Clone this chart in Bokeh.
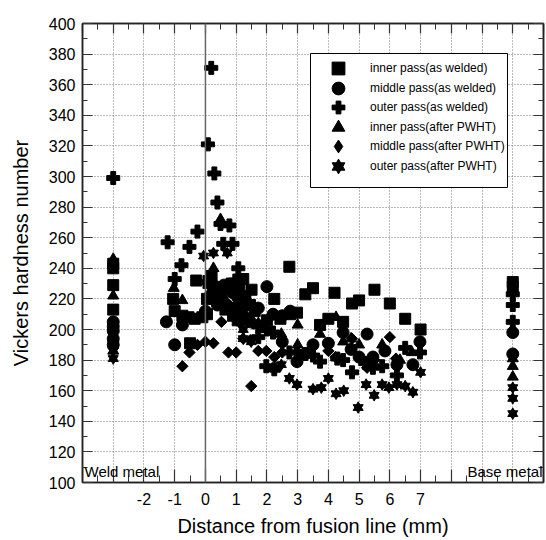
import math
from bokeh.plotting import figure
from bokeh.models import (Range1d, LinearAxis, SingleIntervalTicker, Span, Label, BoxAnnotation,
                          Legend, LegendItem, ColumnDataSource, CustomJSTickFormatter)
from bokeh.embed import file_html
from bokeh.resources import INLINE

FONT = "Liberation Sans"

# ---------------- data (x: distance from fusion line, mm; -3 = weld metal, 10 = base metal)
inner_aw_x = [-3, -3, -3, -3, -1.05, -1.0, -0.75, -0.55, -0.35, -0.1, 0.05, -0.3, 0.2, -0.5,
              0.05, 0.25, 0.5, 0.85, 1.1, 1.3, 0.65, 0.9, 1.05, 1.45, 1.6, 1.23, 1.5, 2.24, 0.75,
              2.0, 2.44, 2.76, 2.98, 2.73, 3.25, 3.5, 4.2, 3.73, 4.0, 4.48, 4.77, 5.0, 5.5, 6.0,
              6.5, 7.0, 10, 10]
inner_aw_y = [243, 240, 229, 213, 220, 212, 209, 208, 207, 208, 210, 232, 235, 191,
              220, 228, 225, 230, 226, 222, 213, 209, 206, 216, 212, 233, 226, 220, 214,
              206, 207, 210, 211, 241, 223, 227, 224, 203, 207, 205, 217, 219, 226, 217,
              207, 200, 231, 228]

middle_aw_x = [-3, -3, -3, -3, -3, -1.27, -0.75, -1.0, 0.0, 0.39, 0.15, 0.3, 0.45, 0.6, 0.75,
               0.9, 1.05, 0.55, 0.35, 0.7, 0.95, 1.15, 1.3, 1.2, 1.35, 2.0, 1.1, 1.46, 1.72,
               2.76, 2.2, 2.5, 2.5, 2.98, 3.25, 3.5, 4.0, 4.48, 4.74, 5.0, 5.26, 5.45, 5.84,
               6.23, 6.75, 6.98, 10, 10]
middle_aw_y = [205, 202, 199, 194, 190, 205, 203, 190, 212, 216, 222, 225, 227, 229, 227,
               224, 221, 220, 218, 216, 214, 216, 219, 210, 207, 228, 206, 205, 214,
               212, 210, 209, 192, 179, 184, 190, 191, 198, 187, 182, 197, 182, 186,
               177, 177, 192, 198, 184]

outer_aw_x = [-3, -1.23, -0.78, -0.52, -0.26, -1.0, 0.0, 0.19, 0.08, 0.29, 0.39, 0.49, 0.78,
              0.58, 0.88, 1.07, 0.97, 1.72, 1.72, 2.0, 2.2, 1.98, 2.24, 2.73, 2.98, 3.25, 3.5,
              3.73, 4.29, 4.48, 4.77, 5.2, 5.45, 5.75, 6.23, 6.5, 6.98, 10, 10, 10]
outer_aw_y = [299, 257, 242, 254, 264, 233, 231, 371, 321, 302, 283, 269, 268,
              256, 256, 240, 232, 202, 195, 200, 198, 176, 174, 185, 185, 184, 183,
              179, 181, 180, 172, 178, 175, 176, 170, 188, 185, 223, 216, 205]

inner_pw_x = [-3, -3, -3, -1.03, -0.75, 0.26, 0.49, 0.8, 1.3, 1.72, 2.0, 2.47, 3.0, 3.0,
              3.73, 4.25, 4.48, 4.74, 5.0, 5.75, 6.33, 6.72, 10, 10, 10]
inner_pw_y = [246, 222, 186, 227, 219, 240, 272, 212, 205, 204, 200, 197, 203, 190,
              197, 208, 192, 194, 190, 190, 180, 185, 181, 176, 169]

middle_pw_x = [-3, -3, -0.75, -0.52, -0.26, 0.0, 0.26, 0.52, 0.75, 1.0, 1.23, 1.46, 1.72,
               1.98, 2.24, 2.5, 1.49, 3.0, 3.5, 4.0, 4.23, 4.77, 5.26, 5.5, 6.0, 6.2]
middle_pw_y = [192, 188, 176, 185, 190, 192, 191, 205, 185, 185, 194, 193, 186,
               186, 182, 185, 163, 185, 183, 186, 182, 194, 175, 180, 195, 181]

outer_pw_x = [-3, -3, -0.06, 0.26, 0.71, 1.23, 1.23, 1.49, 2.27, 2.47, 2.73, 2.98, 3.5, 3.77,
              4.0, 4.25, 4.5, 4.97, 5.23, 5.49, 5.75, 5.97, 6.23, 6.5, 6.75, 7.0, 10, 10, 10]
outer_pw_y = [181, 186, 248, 250, 250, 200, 194, 192, 174, 177, 168, 164, 161, 162,
              168, 158, 160, 149, 164, 157, 164, 162, 164, 163, 159, 172, 162, 155, 145]

labels = ["inner pass(as welded)", "middle pass(as welded)", "outer pass(as welded)",
          "inner pass(after PWHT)", "middle pass(after PWHT)", "outer pass(after PWHT)"]

x_tick_hidden = [-4, -3, 8, 9, 10, 11]
x_tick_neg = [-2, -1]

# ---------------- figure
p = figure(width=546, height=540, x_range=Range1d(-4, 11), y_range=Range1d(100, 400),
           output_backend="svg", toolbar_location=None,
           min_border_left=82, min_border_right=3, min_border_top=23, min_border_bottom=58)
p.background_fill_color = "white"
p.border_fill_color = "white"
p.outline_line_color = "#222222"
p.outline_line_width = 1.5

xt = SingleIntervalTicker(interval=1, num_minor_ticks=2)
yt = SingleIntervalTicker(interval=20, num_minor_ticks=2)

xa = p.xaxis[0]
ya = p.yaxis[0]
xa.ticker = xt
ya.ticker = yt
overrides = {}
for t in x_tick_hidden:
    overrides[t] = ""
for t in x_tick_neg:
    overrides[t] = "-%d" % (-t)
xa.major_label_overrides = overrides

blank = CustomJSTickFormatter(code="return ''")
top = LinearAxis(ticker=xt, formatter=blank, major_label_standoff=0,
                 major_label_text_font_size="1px")
right = LinearAxis(ticker=yt, formatter=blank, major_label_standoff=0,
                   major_label_text_font_size="1px")
p.add_layout(top, "above")
p.add_layout(right, "right")

for ax, mj, mn in [(xa, 13, 7), (top, 10, 6), (ya, 10, 5), (right, 10, 5)]:
    ax.major_tick_in = mj
    ax.major_tick_out = 0
    ax.minor_tick_in = mn
    ax.minor_tick_out = 0
    ax.axis_line_color = "#222222"
    ax.axis_line_width = 1.5
    ax.major_tick_line_color = "#333333"
    ax.minor_tick_line_color = "#333333"
    ax.major_tick_line_width = 1.2
    ax.minor_tick_line_width = 1

for ax in (xa, ya):
    ax.major_label_text_font = FONT
    ax.major_label_text_font_size = "16px"
    ax.major_label_text_color = "black"
    ax.axis_label_text_font = FONT
    ax.axis_label_text_font_size = "20px"
    ax.axis_label_text_font_style = "normal"
    ax.axis_label_text_color = "black"

xa.axis_label = "Distance from fusion line (mm)"
ya.axis_label = "Vickers hardness number"
xa.major_label_standoff = 10
xa.axis_label_standoff = 7
ya.major_label_standoff = 7
ya.axis_label_standoff = 14

for g in (p.xgrid[0], p.ygrid[0]):
    g.grid_line_color = "#777777"
    g.grid_line_dash = "1 2"
    g.grid_line_width = 1

p.add_layout(Span(location=0, dimension="height", line_color="#666666", line_width=1.5))

# ---------------- markers
sq = p.scatter(inner_aw_x, inner_aw_y, marker="square", size=11, color="black")
ci = p.scatter(middle_aw_x, middle_aw_y, marker="circle", size=12, color="black")
pl = p.scatter(outer_aw_x, outer_aw_y, marker="plus", size=13, color="black")
tr = p.scatter(inner_pw_x, inner_pw_y, marker="triangle", size=11, color="black")
di = p.scatter(middle_pw_x, middle_pw_y, marker="square", size=8, angle=math.pi / 4, color="black")
st1 = p.scatter(outer_pw_x, outer_pw_y, marker="triangle", size=10, color="black")
st2 = p.scatter(outer_pw_x, outer_pw_y, marker="inverted_triangle", size=10, color="black")

# legend-only swatch for the diamonds (a single NaN point: nothing drawn in the plot)
di_src = ColumnDataSource(data=dict(x=[float("nan")], y=[float("nan")]))
di_leg = p.scatter("x", "y", source=di_src, marker="diamond", size=12, color="black")

# ---------------- legend: frame box + two interleaved legends (rows 1,3,5 and 2,4,6)
FRAME_L, FRAME_B = 82, 482
PX_X = 461 / 15.0
PX_Y = 459 / 300.0


def sx_to_x(sx):
    return -4 + (sx - FRAME_L) / PX_X


def sy_to_y(sy):
    return 100 + (FRAME_B - sy) / PX_Y


p.add_layout(BoxAnnotation(left=sx_to_x(310), right=sx_to_x(507), top=sy_to_y(53),
                           bottom=sy_to_y(187), fill_color="white", fill_alpha=1,
                           line_color="black", line_alpha=1, line_width=1))

rends = [[sq], [ci], [pl], [tr], [di_leg], [st1, st2]]
ROW_TOP = 52      # screen y of the first row's glyph box top
PITCH = 19.5
for k in (0, 1):
    items = [LegendItem(label=labels[i], renderers=rends[i]) for i in range(k, 6, 2)]
    top_px = ROW_TOP + k * PITCH
    height = 3 * 32 + 2 * 7
    lg = Legend(items=items, location=(322 - FRAME_L, FRAME_B - (top_px + height)))
    lg.glyph_width = 32
    lg.glyph_height = 32
    lg.label_height = 32
    lg.spacing = 7
    lg.padding = 0
    lg.margin = 0
    lg.label_standoff = 16
    lg.label_text_font = FONT
    lg.label_text_font_size = "12px"
    lg.label_text_color = "black"
    lg.border_line_alpha = 0
    lg.background_fill_alpha = 0
    p.add_layout(lg)

p.add_layout(Label(x=-4, y=107, x_offset=2, text="Weld metal", text_align="left",
                   text_baseline="middle", text_font=FONT, text_font_size="15px",
                   text_color="black"))
p.add_layout(Label(x=11, y=107, x_offset=-1, text="Base metal", text_align="right",
                   text_baseline="middle", text_font=FONT, text_font_size="15px",
                   text_color="black"))

open("out.html", "w").write(file_html(p, INLINE))
